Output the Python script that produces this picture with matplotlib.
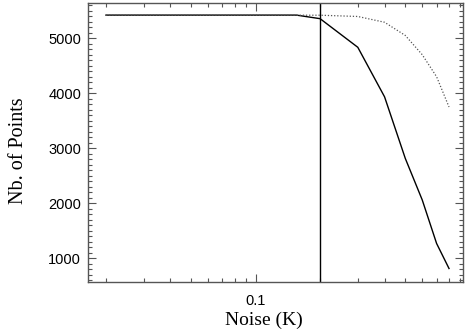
import numpy as np
import matplotlib
matplotlib.use("Agg")
import matplotlib.pyplot as plt
from matplotlib.ticker import LogLocator, FixedLocator, NullFormatter, FixedFormatter, MultipleLocator

# values
noise_solid = [0.02, 0.155, 0.2, 0.3, 0.4, 0.5, 0.6, 0.7, 0.8]
points_solid = [5420, 5420, 5355, 4835, 3935, 2815, 2060, 1270, 815]

noise_dotted = [0.02, 0.2, 0.3, 0.4, 0.5, 0.6, 0.7, 0.8]
points_dotted = [5420, 5418, 5395, 5290, 5050, 4700, 4300, 3750]

cut_noise = 0.2
xtick_vals = [0.1]
xtick_labels = ["0.1"]
ytick_vals = [1000, 2000, 3000, 4000, 5000]

fig = plt.figure(figsize=(4.66, 3.33), dpi=100)
ax = fig.add_axes([0.189, 0.154, 0.8046, 0.837])

ax.plot(noise_solid, points_solid, color="black", lw=1.0)
ax.plot(noise_dotted, points_dotted, color="#555555", lw=0.9, ls=(0, (1, 1.5)))
ax.axvline(cut_noise, color="black", lw=1.0)

ax.set_xscale("log")
ax.set_xlim(0.0165, 0.93)
ax.set_ylim(575, 5640)

ax.xaxis.set_major_locator(FixedLocator(xtick_vals))
ax.xaxis.set_major_formatter(FixedFormatter(xtick_labels))
ax.xaxis.set_minor_locator(LogLocator(base=10, subs=np.arange(2, 10)))
ax.xaxis.set_minor_formatter(NullFormatter())
ax.yaxis.set_major_locator(FixedLocator(ytick_vals))
ax.yaxis.set_minor_locator(MultipleLocator(100))

ax.tick_params(which="both", direction="in", top=True, right=True,
               color="#555555", width=0.8)
ax.tick_params(which="major", length=6, labelsize=10.5)
ax.tick_params(axis="x", which="major", pad=9)
ax.tick_params(axis="y", which="major", pad=5)
ax.tick_params(which="minor", length=3)
for lab in ax.get_xticklabels() + ax.get_yticklabels():
    lab.set_family("Liberation Sans")

for sp in ax.spines.values():
    sp.set_color("#555555")
    sp.set_linewidth(1.0)

ax.set_xlabel("Noise (K)", family="Liberation Serif", fontsize=14)
ax.set_ylabel("Nb. of Points", family="Liberation Serif", fontsize=14.5)
ax.xaxis.set_label_coords(0.468, -0.108)
ax.yaxis.set_label_coords(-0.16, 0.469)

fig.savefig("out.png", dpi=100)
